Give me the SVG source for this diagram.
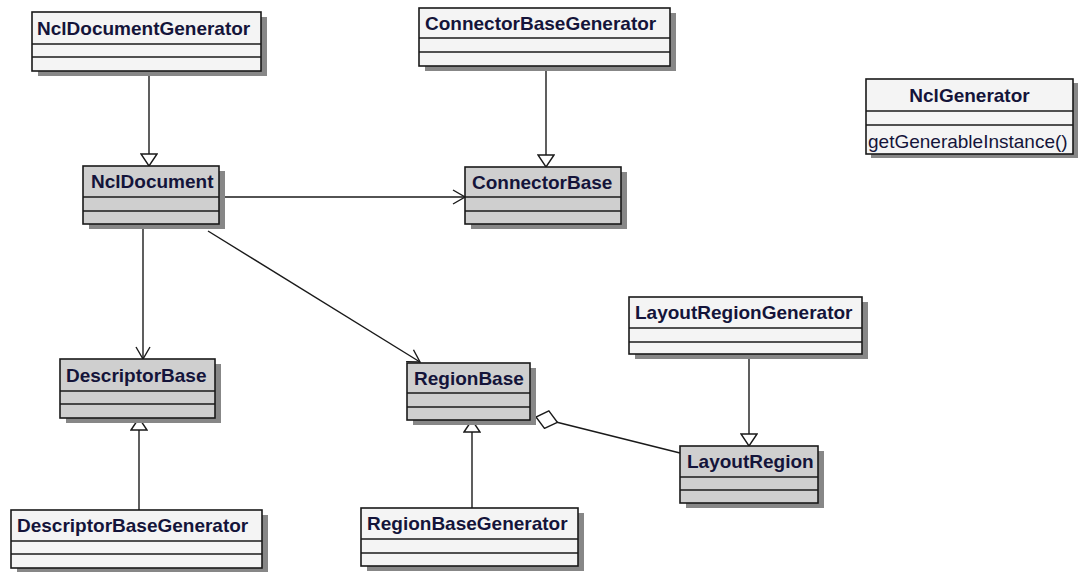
<svg xmlns="http://www.w3.org/2000/svg" width="1078" height="572" viewBox="0 0 1078 572">
  <style>
    .shadow { fill: #878787; }
    .box { stroke: #1a1a1a; stroke-width: 1.6; }
    .gen { fill: #f4f4f4; }
    .cls { fill: #cfcfcf; }
    .sep { stroke: #1a1a1a; stroke-width: 1.6; }
    .name { font-family: "Liberation Sans", Arial, sans-serif; font-weight: bold; font-size: 19px; fill: #14143a; }
    .op { font-family: "Liberation Sans", Arial, sans-serif; font-size: 19px; fill: #14143a; }
    .edge { stroke: #1a1a1a; stroke-width: 1.4; fill: none; }
  </style>
  <defs>
    <marker id="inherit" viewBox="0 0 14 18" refX="13" refY="9" markerWidth="14" markerHeight="18" markerUnits="userSpaceOnUse" orient="auto">
      <path d="M1,1 L13,9 L1,17 Z" fill="#ffffff" stroke="#1a1a1a" stroke-width="1.4"/>
    </marker>
    <marker id="open" viewBox="0 0 14 18" refX="13" refY="9" markerWidth="14" markerHeight="18" markerUnits="userSpaceOnUse" orient="auto">
      <path d="M1,2 L13,9 L1,16" fill="none" stroke="#1a1a1a" stroke-width="1.4"/>
    </marker>
    <marker id="aggr" viewBox="0 0 24 20" refX="23" refY="10" markerWidth="24" markerHeight="20" markerUnits="userSpaceOnUse" orient="auto">
      <path d="M1,10 L12,1 L23,10 L12,19 Z" fill="#ffffff" stroke="#1a1a1a" stroke-width="1.4"/>
    </marker>
  </defs>

  <!-- associations, generalizations and the aggregation -->
  <g id="connectors">
    <line class="edge" x1="149" y1="71" x2="149" y2="166" marker-end="url(#inherit)"/>
    <line class="edge" x1="546" y1="66" x2="546" y2="167" marker-end="url(#inherit)"/>
    <line class="edge" x1="219" y1="197" x2="465" y2="197" marker-end="url(#open)"/>
    <line class="edge" x1="143" y1="224" x2="143" y2="359" marker-end="url(#open)"/>
    <line class="edge" x1="208" y1="231" x2="420" y2="362" marker-end="url(#open)"/>
    <line class="edge" x1="139" y1="510" x2="139" y2="418" marker-end="url(#inherit)"/>
    <line class="edge" x1="472" y1="508" x2="472" y2="420" marker-end="url(#inherit)"/>
    <line class="edge" x1="749" y1="354" x2="749" y2="446" marker-end="url(#inherit)"/>
    <line class="edge" x1="680" y1="453" x2="536" y2="417" marker-end="url(#aggr)"/>
  </g>

  <g id="NclDocumentGenerator">
    <rect class="shadow" x="38" y="17" width="229" height="59"/>
    <rect class="box gen" x="32" y="12" width="229" height="59"/>
    <line class="sep" x1="32" y1="44" x2="261" y2="44"/>
    <line class="sep" x1="32" y1="57" x2="261" y2="57"/>
    <text class="name" x="37" y="35">NclDocumentGenerator</text>
  </g>

  <g id="ConnectorBaseGenerator">
    <rect class="shadow" x="425" y="13" width="251" height="58"/>
    <rect class="box gen" x="419" y="8" width="251" height="58"/>
    <line class="sep" x1="419" y1="38" x2="670" y2="38"/>
    <line class="sep" x1="419" y1="52" x2="670" y2="52"/>
    <text class="name" x="425" y="30">ConnectorBaseGenerator</text>
  </g>

  <g id="NclGenerator">
    <rect class="shadow" x="871" y="83" width="207" height="75"/>
    <rect class="box gen" x="866" y="79" width="207" height="75"/>
    <line class="sep" x1="866" y1="111" x2="1073" y2="111"/>
    <line class="sep" x1="866" y1="125" x2="1073" y2="125"/>
    <text class="name" x="969.5" y="102" text-anchor="middle">NclGenerator</text>
    <text class="op" x="868" y="148">getGenerableInstance()</text>
  </g>

  <g id="NclDocument">
    <rect class="shadow" x="89" y="171" width="136" height="58"/>
    <rect class="box cls" x="83" y="166" width="136" height="58"/>
    <line class="sep" x1="83" y1="197" x2="219" y2="197"/>
    <line class="sep" x1="83" y1="211" x2="219" y2="211"/>
    <text class="name" x="91" y="188">NclDocument</text>
  </g>

  <g id="ConnectorBase">
    <rect class="shadow" x="471" y="172" width="156" height="57"/>
    <rect class="box cls" x="465" y="167" width="156" height="57"/>
    <line class="sep" x1="465" y1="197" x2="621" y2="197"/>
    <line class="sep" x1="465" y1="211" x2="621" y2="211"/>
    <text class="name" x="472" y="189">ConnectorBase</text>
  </g>

  <g id="LayoutRegionGenerator">
    <rect class="shadow" x="635" y="302" width="233" height="57"/>
    <rect class="box gen" x="629" y="297" width="233" height="57"/>
    <line class="sep" x1="629" y1="328" x2="862" y2="328"/>
    <line class="sep" x1="629" y1="342" x2="862" y2="342"/>
    <text class="name" x="635" y="319">LayoutRegionGenerator</text>
  </g>

  <g id="DescriptorBase">
    <rect class="shadow" x="66" y="364" width="155" height="59"/>
    <rect class="box cls" x="60" y="359" width="155" height="59"/>
    <line class="sep" x1="60" y1="391" x2="215" y2="391"/>
    <line class="sep" x1="60" y1="404" x2="215" y2="404"/>
    <text class="name" x="66" y="382">DescriptorBase</text>
  </g>

  <g id="RegionBase">
    <rect class="shadow" x="413" y="368" width="123" height="57"/>
    <rect class="box cls" x="407" y="363" width="123" height="57"/>
    <line class="sep" x1="407" y1="393" x2="530" y2="393"/>
    <line class="sep" x1="407" y1="407" x2="530" y2="407"/>
    <text class="name" x="414" y="385">RegionBase</text>
  </g>

  <g id="LayoutRegion">
    <rect class="shadow" x="686" y="451" width="138" height="57"/>
    <rect class="box cls" x="680" y="446" width="138" height="57"/>
    <line class="sep" x1="680" y1="477" x2="818" y2="477"/>
    <line class="sep" x1="680" y1="490" x2="818" y2="490"/>
    <text class="name" x="687" y="468">LayoutRegion</text>
  </g>

  <g id="DescriptorBaseGenerator">
    <rect class="shadow" x="17" y="515" width="251" height="58"/>
    <rect class="box gen" x="11" y="510" width="251" height="58"/>
    <line class="sep" x1="11" y1="541" x2="262" y2="541"/>
    <line class="sep" x1="11" y1="554" x2="262" y2="554"/>
    <text class="name" x="17" y="532">DescriptorBaseGenerator</text>
  </g>

  <g id="RegionBaseGenerator">
    <rect class="shadow" x="367" y="513" width="217" height="58"/>
    <rect class="box gen" x="361" y="508" width="217" height="58"/>
    <line class="sep" x1="361" y1="539" x2="578" y2="539"/>
    <line class="sep" x1="361" y1="553" x2="578" y2="553"/>
    <text class="name" x="367" y="530">RegionBaseGenerator</text>
  </g>
</svg>
